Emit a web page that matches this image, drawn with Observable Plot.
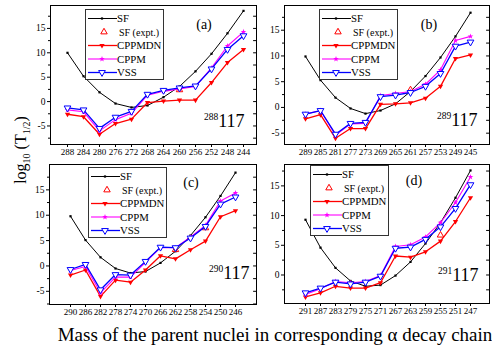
<!DOCTYPE html>
<html><head><meta charset="utf-8">
<script src="https://cdn.jsdelivr.net/npm/d3@7"></script>
<script src="https://cdn.jsdelivr.net/npm/@observablehq/plot@0.6"></script>
<style>
body{margin:0;background:#fff;}
#root{position:relative;width:492px;height:354px;overflow:hidden;font-family:"Times New Roman","Liberation Serif",Times,serif;background:#fff}
#root > svg{position:absolute}
#root svg text{font-family:"Times New Roman","Liberation Serif",Times,serif}
</style></head><body><div id="root"></div>
<script>
// ---------- data (log10 T1/2) ----------
const seriesNames = ["SF", "SF (expt.)", "CPPMDN", "CPPM", "VSS"];
const panelTags = ["(a)", "(b)", "(c)", "(d)"];
const parentMass = ["288", "289", "290", "291"];
const parentZ = "117";

const massA = [288,284,280,276,272,268,264,260,256,252,248,244];
const sfA = [10.0,5.2,1.9,-0.4,-1.2,-0.8,0.9,3.1,6.2,9.8,14.0,18.6];
const exptMassA = [260];
const exptValA = [2.4];
const cppmdnA = [-2.6,-3.1,-6.7,-4.5,-3.6,-0.2,0.1,0.3,0.3,3.9,8.0,10.7];
const cppmA = [-1.7,-2.1,-6.0,-3.7,-2.4,1.3,2.1,2.6,3.1,6.9,11.4,14.3];
const vssA = [-1.3,-1.7,-5.5,-3.2,-2.0,1.5,2.3,2.8,3.2,6.7,10.7,13.5];

const massB = [289,285,281,277,273,269,265,261,257,253,249,245];
const sfB = [9.9,5.3,1.9,-0.2,-1.2,-0.6,0.7,3.1,6.1,9.7,13.8,18.4];
const exptMassB = [261];
const exptValB = [3.4];
const cppmdnB = [-2.2,-1.4,-6.0,-4.1,-4.1,0.6,0.7,0.9,1.8,4.1,9.5,10.2];
const cppmB = [-1.3,-0.6,-5.4,-3.2,-3.1,2.3,2.7,3.1,4.5,7.3,13.0,13.8];
const vssB = [-1.3,-0.6,-5.2,-3.1,-2.9,2.1,2.4,2.9,4.1,6.6,11.9,12.7];

const massC = [290,286,282,278,274,270,266,262,258,254,250,246];
const sfC = [9.8,5.1,1.7,-0.5,-1.4,-1.1,0.6,2.9,6.0,9.6,13.8,18.4];
const exptMassC = [262,254];
const exptValC = [3.2,7.5];
const cppmdnC = [-1.8,-0.8,-6.0,-2.8,-3.2,-0.8,2.0,1.4,3.2,4.9,9.7,10.9];
const cppmC = [-0.9,-0.1,-5.3,-2.2,-2.2,0.7,3.6,3.6,5.7,8.0,12.8,14.4];
const vssC = [-0.7,0.3,-4.7,-1.7,-1.8,0.9,3.7,3.6,5.5,7.8,12.2,13.6];

const massD = [291,287,283,279,275,271,267,263,259,255,251,247];
const sfD = [9.3,4.6,1.2,-1.0,-1.9,-1.7,-0.1,2.2,5.3,8.8,13.0,17.6];
const exptMassD = [255];
const exptValD = [6.7];
const cppmdnD = [-3.7,-3.0,-1.9,-2.2,-2.2,-1.3,3.2,3.0,3.9,5.7,9.0,13.0];
const cppmD = [-3.3,-2.3,-1.1,-1.3,-1.1,-0.1,4.8,5.1,6.4,8.8,12.2,16.5];
const vssD = [-3.0,-2.2,-1.2,-1.5,-1.2,-0.2,4.5,4.7,6.0,8.1,11.2,15.2];

const yTicksABC = [-5,0,5,10,15];
const yTicksD = [0,5,10,15];

// ---------- layout ----------
const FONT = "'Times New Roman','Liberation Serif',Times,serif";
const TICK_FS = 9;
const COLORS = {sf:"#000000", expt:"#ff0000", cppmdn:"#ff0000", cppm:"#ff00ff", vss:"#0000ff"};

const panels = [
  {mass:massA, sf:sfA, em:exptMassA, ev:exptValA, cppmdn:cppmdnA, cppm:cppmA, vss:vssA,
   yDomain:[-8.8,19.7], yTicks:yTicksABC, left:0, top:0, width:262, height:160, ml:50, mr:6, mt:5, mb:16, inL:7.7, inR:4.5,
   legend:[85,9], tag:[204,29], nuc:[204,127]},
  {mass:massB, sf:sfB, em:exptMassB, ev:exptValB, cppmdn:cppmdnB, cppm:cppmB, vss:vssB,
   yDomain:[-7.2,19.8], yTicks:yTicksABC, left:246, top:0, width:246, height:160, ml:38, mr:3, mt:5, mb:16, inL:8.7, inR:7.3,
   legend:[319,9], tag:[429,29], nuc:[437,126]},
  {mass:massC, sf:sfC, em:exptMassC, ev:exptValC, cppmdn:cppmdnC, cppm:cppmC, vss:vssC,
   yDomain:[-7.6,20], yTicks:yTicksABC, left:0, top:160, width:262, height:160, ml:49, mr:6, mt:4, mb:16, inL:8.7, inR:9.3,
   legend:[88,167], tag:[191,187], nuc:[209,279]},
  {mass:massD, sf:sfD, em:exptMassD, ev:exptValD, cppmdn:cppmdnD, cppm:cppmD, vss:vssD,
   yDomain:[-4.8,18.6], yTicks:yTicksD, left:246, top:160, width:246, height:160, ml:38, mr:3, mt:4, mb:17, inL:9.3, inR:7.3,
   legend:[310,165], tag:[414,185], nuc:[438,281]}
];

const root = document.getElementById("root");
const tickShape = {draw(context, l) { context.moveTo(0, 0); context.lineTo(0, -l); }};

function makePanel(p) {
  const rows = p.mass.map((m, i) => ({mass: m, sf: p.sf[i], cppmdn: p.cppmdn[i], cppm: p.cppm[i], vss: p.vss[i]}));
  const expt = p.em.map((m, i) => ({mass: m, v: p.ev[i]}));
  const all = d3.range(Math.ceil(p.yDomain[0] / 2.5) * 2.5, p.yDomain[1], 2.5);
  const minor = all.filter(v => v % 5 !== 0);
  return Plot.plot({
    width: p.width, height: p.height,
    marginLeft: p.ml, marginRight: p.mr, marginTop: p.mt, marginBottom: p.mb,
    style: {fontFamily: FONT, fontSize: TICK_FS + "px", background: "transparent", overflow: "visible", color: "#000"},
    x: {type: "point", domain: p.mass, insetLeft: p.inL, insetRight: p.inR, label: null},
    y: {domain: p.yDomain, label: null},
    marks: [
      Plot.frame({stroke: "#000", strokeWidth: 1}),
      Plot.axisY({ticks: p.yTicks, tickSize: 3, tickPadding: 2, tickFormat: d => String(d), label: null, fontSize: TICK_FS + 0.5, fontFamily: FONT}),
      Plot.axisY({ticks: minor, tickSize: 2, tickFormat: () => "", label: null}),
      Plot.vector(all, {y: d => d, frameAnchor: "right", length: 3, rotate: -90, anchor: "start", shape: tickShape, stroke: "#000", strokeWidth: 1}),
      Plot.axisX({tickSize: 3, tickPadding: 1.5, label: null, fontSize: TICK_FS, fontFamily: FONT, tickFormat: d => String(d)}),
      Plot.line(rows, {x: "mass", y: "sf", stroke: COLORS.sf, strokeWidth: 1}),
      Plot.dot(rows, {x: "mass", y: "sf", symbol: "square2", r: 1.4, fill: COLORS.sf}),
      Plot.dot(expt, {x: "mass", y: "v", symbol: "triangle", r: 2.4, stroke: COLORS.expt, strokeWidth: 1}),
      Plot.line(rows, {x: "mass", y: "cppmdn", stroke: COLORS.cppmdn, strokeWidth: 1.3}),
      Plot.dot(rows, {x: "mass", y: "cppmdn", symbol: "triangle2", rotate: 180, r: 2.5, fill: COLORS.cppmdn}),
      Plot.line(rows, {x: "mass", y: "cppm", stroke: COLORS.cppm, strokeWidth: 1.1}),
      Plot.dot(rows, {x: "mass", y: "cppm", symbol: "star", r: 1.8, fill: COLORS.cppm}),
      Plot.line(rows, {x: "mass", y: "vss", stroke: COLORS.vss, strokeWidth: 1.3}),
      Plot.dot(rows, {x: "mass", y: "vss", symbol: "triangle", rotate: 180, r: 2.5, stroke: COLORS.vss, fill: "#fff", strokeWidth: 1})
    ]
  });
}

panels.forEach(p => {
  const svg = makePanel(p);
  svg.style.left = p.left + "px";
  svg.style.top = p.top + "px";
  svg.style.maxWidth = "none";
  svg.setAttribute("font-family", FONT);
  d3.select(svg).selectAll("text").attr("font-family", FONT);
  root.appendChild(svg);
});

// ---------- overlay: legends, tags, titles ----------
const ov = d3.select(root).append("svg")
  .attr("width", 492).attr("height", 354)
  .style("left", "0px").style("top", "0px")
  .attr("font-family", FONT);

const legendItems = [
  {name: seriesNames[0], color: COLORS.sf, line: 1, sym: d3.symbolSquare2, r: 1.4, fill: COLORS.sf, stroke: "none", rot: 0},
  {name: seriesNames[1], color: COLORS.expt, line: 0, sym: d3.symbolTriangle, r: 2.4, fill: "none", stroke: COLORS.expt, rot: 0},
  {name: seriesNames[2], color: COLORS.cppmdn, line: 1.3, sym: d3.symbolTriangle2, r: 2.5, fill: COLORS.cppmdn, stroke: "none", rot: 180},
  {name: seriesNames[3], color: COLORS.cppm, line: 1.1, sym: d3.symbolStar, r: 1.8, fill: COLORS.cppm, stroke: "none", rot: 0},
  {name: seriesNames[4], color: COLORS.vss, line: 1.3, sym: d3.symbolTriangle, r: 2.5, fill: "#fff", stroke: COLORS.vss, rot: 180}
];

panels.forEach((p, k) => {
  const g = ov.append("g").attr("transform", `translate(${p.legend[0]},${p.legend[1]})`);
  g.append("rect").attr("x", 0.5).attr("y", 0.5).attr("width", 78).attr("height", 70)
    .attr("fill", "#fff").attr("stroke", "#333").attr("stroke-width", 1);
  legendItems.forEach((it, i) => {
    const y = 9.5 + i * 13.5;
    if (it.line) g.append("line").attr("x1", 3).attr("x2", 32).attr("y1", y).attr("y2", y)
      .attr("stroke", it.color).attr("stroke-width", it.line);
    g.append("path").attr("d", d3.symbol(it.sym, Math.PI * it.r * it.r)())
      .attr("transform", `translate(${i === 1 ? 19 : 17},${y}) rotate(${it.rot})`)
      .attr("fill", it.fill).attr("stroke", it.stroke).attr("stroke-width", 1);
    g.append("text").attr("x", i === 1 ? 34 : 32).attr("y", y + 3.8)
      .attr("font-size", i === 1 ? 10 : 10.8).attr("fill", "#000").text(it.name);
  });
  ov.append("text").attr("x", p.tag[0]).attr("y", p.tag[1]).attr("text-anchor", "middle")
    .attr("font-size", 14).attr("fill", "#000").text(panelTags[k]);
  const t = ov.append("text").attr("x", p.nuc[0]).attr("y", p.nuc[1]).attr("fill", "#000");
  t.append("tspan").attr("font-size", 9.5).attr("dy", -7).text(parentMass[k]);
  t.append("tspan").attr("font-size", 18).attr("dy", 7).text(parentZ);
});

// y title
const yt = ov.append("text").attr("transform", "translate(26,150) rotate(-90)")
  .attr("text-anchor", "middle").attr("font-size", 16).attr("fill", "#000");
yt.append("tspan").text("log");
yt.append("tspan").attr("font-size", 10).attr("dy", 4).text("10");
yt.append("tspan").attr("dy", -4).text(" (T");
yt.append("tspan").attr("font-size", 10).attr("dy", 4).text("1/2");
yt.append("tspan").attr("dy", -4).text(")");

// x title
ov.append("text").attr("x", 275).attr("y", 341).attr("text-anchor", "middle")
  .attr("font-size", 19).attr("fill", "#000")
  .text("Mass of the parent nuclei in corresponding \u03b1 decay chain");
</script>
</body></html>
